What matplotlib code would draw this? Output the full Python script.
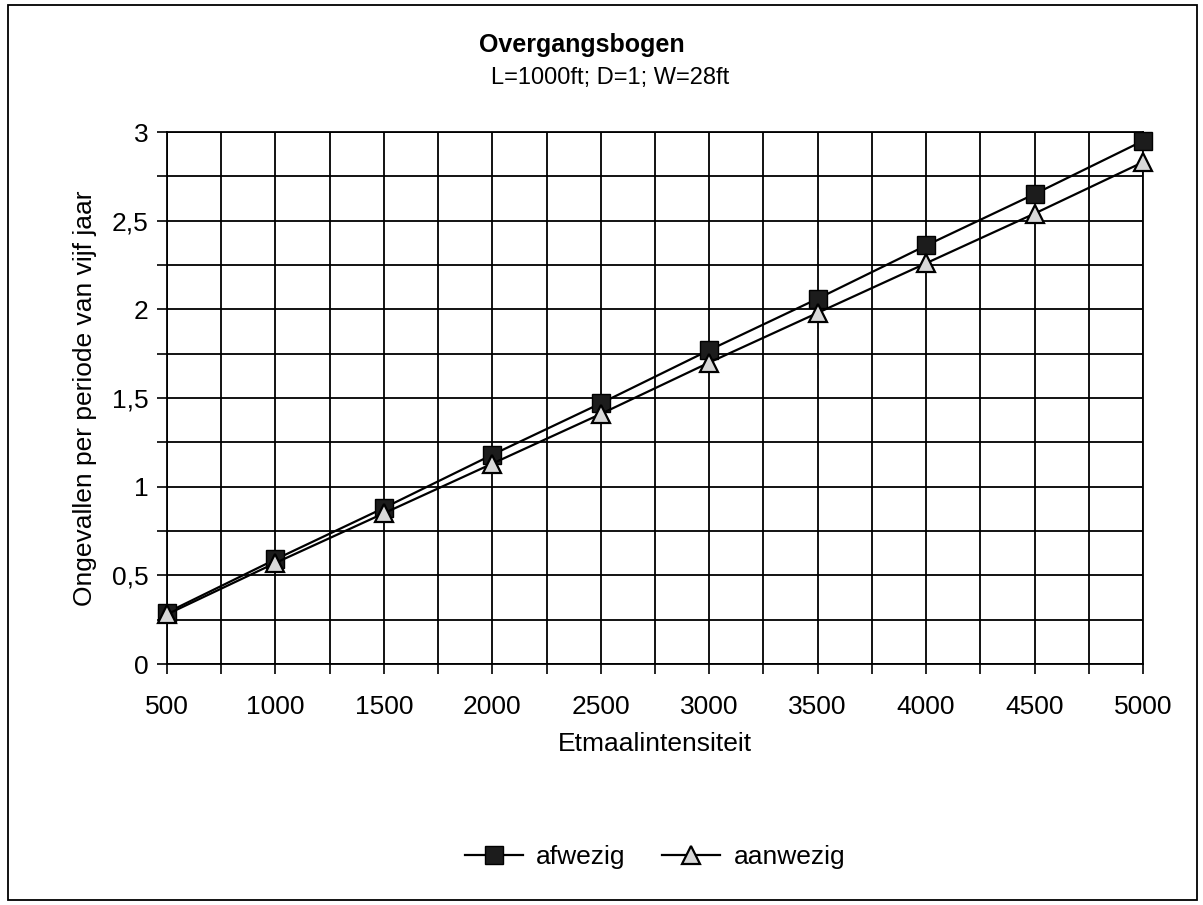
import matplotlib
matplotlib.use("Agg")
import matplotlib.pyplot as plt
from matplotlib.patches import Rectangle
from matplotlib.ticker import MultipleLocator, FuncFormatter

# data
intensiteit = [500, 1000, 1500, 2000, 2500, 3000, 3500, 4000, 4500, 5000]
afwezig = [0.29, 0.59, 0.88, 1.18, 1.47, 1.77, 2.06, 2.36, 2.65, 2.95]
aanwezig = [0.28, 0.57, 0.85, 1.13, 1.41, 1.70, 1.98, 2.26, 2.54, 2.83]

title = "Overgangsbogen"
subtitle = "L=1000ft; D=1; W=28ft"
xlabel = "Etmaalintensiteit"
ylabel = "Ongevallen per periode van vijf jaar"

plt.rcParams["font.family"] = ["Liberation Sans", "DejaVu Sans"]

W, H = 1203, 905
fig = plt.figure(figsize=(W / 100, H / 100), dpi=100, facecolor="white")

# axes placed in pixel terms of the reference
left, right, top, bottom = 167, 1143, 132, 664
ax = fig.add_axes([left / W, 1 - bottom / H, (right - left) / W, (bottom - top) / H])

ax.plot(intensiteit, afwezig, color="black", linewidth=1.6, marker="s",
        markersize=13, markerfacecolor="#1c1c1c", markeredgecolor="black",
        label="afwezig", zorder=3, clip_on=False)
ax.plot(intensiteit, aanwezig, color="black", linewidth=1.6, marker="^",
        markersize=13, markerfacecolor="#d8d8d8", markeredgecolor="black",
        markeredgewidth=1.6, label="aanwezig", zorder=4, clip_on=False)

ax.set_xlim(500, 5000)
ax.set_ylim(0, 3)
ax.xaxis.set_major_locator(MultipleLocator(500))
ax.xaxis.set_minor_locator(MultipleLocator(250))
ax.yaxis.set_major_locator(MultipleLocator(0.5))
ax.yaxis.set_minor_locator(MultipleLocator(0.25))
ax.yaxis.set_major_formatter(FuncFormatter(lambda v, p: f"{v:g}".replace(".", ",")))

ax.grid(True, which="both", color="black", linewidth=1.3)
ax.set_axisbelow(True)
for s in ax.spines.values():
    s.set_linewidth(1.3)
    s.set_color("black")

ax.tick_params(axis="both", which="both", direction="out", length=7.5,
               width=1.2, color="black")
ax.tick_params(axis="x", which="major", labelsize=19, pad=15)
ax.tick_params(axis="y", which="major", labelsize=19, pad=6)

# titles and axis labels
fig.text(582 / W, 1 - 45 / H, title, ha="center", va="center",
         fontsize=18, fontweight="bold")
fig.text(610 / W, 1 - 78 / H, subtitle, ha="center", va="center", fontsize=17)
fig.text(655 / W, 1 - 744 / H, xlabel, ha="center", va="center", fontsize=19)
fig.text(85 / W, 1 - 398 / H, ylabel, ha="center", va="center",
         rotation=90, fontsize=19)

leg = ax.legend(loc="center", bbox_to_anchor=(655 / W, 1 - 857 / H),
                bbox_transform=fig.transFigure, ncol=2, frameon=False,
                fontsize=19, handlelength=2.2, handletextpad=0.5,
                columnspacing=1.4)

# outer frame of the chart
fig.add_artist(Rectangle((8 / W, 1 - 900 / H), 1189 / W, 895 / H,
                         transform=fig.transFigure, fill=False,
                         edgecolor="black", linewidth=1.3))

fig.savefig("out.png", dpi=100, facecolor="white")
